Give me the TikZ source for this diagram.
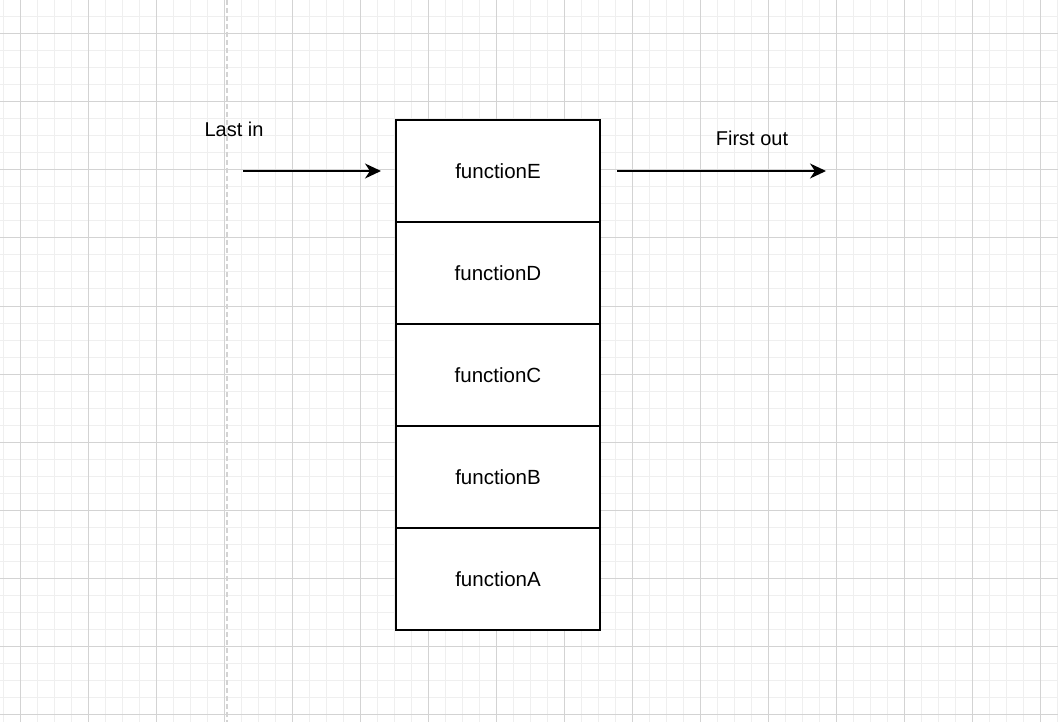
\documentclass[tikz,border=0pt]{standalone}
\usepackage{fontspec}
\setmainfont{Liberation Sans}
\usetikzlibrary{arrows.meta,positioning}
\definecolor{minorgray}{HTML}{EFEFEF}
\definecolor{majorgray}{HTML}{D3D3D3}
\tikzset{
  every picture/.style={x=1pt,y=-1pt},
  frame/.style={draw, line width=1.6pt, minimum width=204pt, minimum height=102pt,
    inner sep=0pt, outer sep=0pt, fill=white, font=\fontsize{20.5}{24}\selectfont},
  flow/.style={line width=1.5pt, -{Stealth[length=16pt,width=15pt,inset=5pt]}},
  tag/.style={font=\fontsize{20}{24}\selectfont}
}

\begin{document}
\begin{tikzpicture}
  \useasboundingbox (0,0) rectangle (1058,722);
  \fill[white] (0,0) rectangle (1058,722);
  % background grid
  \foreach \gx in {3.5,20.5,...,1058} \draw[minorgray, line width=1pt] (\gx,0) -- (\gx,722);
  \foreach \gy in {0,17,...,722} \draw[minorgray, line width=1pt] (0,\gy) -- (1058,\gy);
  \foreach \gx in {20.5,88.5,...,1058} \draw[majorgray, line width=1pt] (\gx,0) -- (\gx,722);
  \foreach \gy in {34,102,...,722} \draw[majorgray, line width=1pt] (0,\gy) -- (1058,\gy);
  \draw[majorgray, line width=1.2pt, dash pattern=on 5pt off 3pt] (227,0) -- (227,722);

  % the stack
  \node[frame] (funcE) at (498,171) {functionE};
  \node[frame, below=0pt of funcE] (funcD) {functionD};
  \node[frame, below=0pt of funcD] (funcC) {functionC};
  \node[frame, below=0pt of funcC] (funcB) {functionB};
  \node[frame, below=0pt of funcB] (funcA) {functionA};

  % in and out
  \coordinate (inStart) at (243,171);
  \coordinate (outEnd) at (826,171);
  \draw[flow, shorten >=15pt] (inStart) -- (funcE.west);
  \draw[flow, shorten <=17pt] (funcE.east) -- (outEnd);
  \node[tag] (lastIn) at (234,129) {Last in};
  \node[tag] (firstOut) at (752,138) {First out};
\end{tikzpicture}
\end{document}
